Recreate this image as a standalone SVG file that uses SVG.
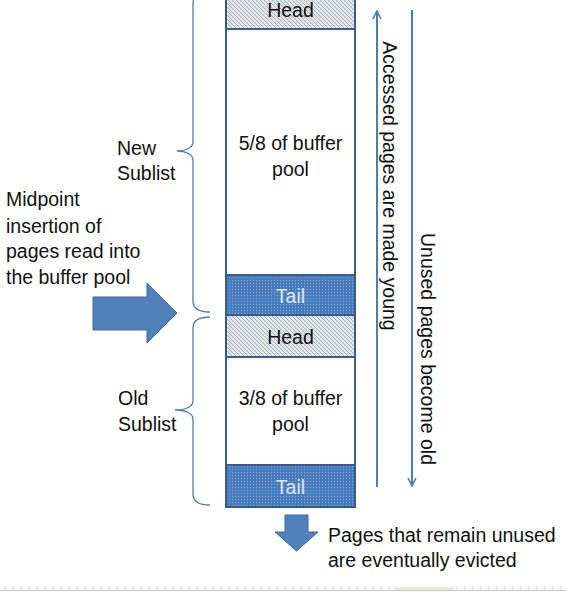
<svg xmlns="http://www.w3.org/2000/svg" width="566" height="592" viewBox="0 0 566 592">
<defs>
<pattern id="hatch" width="4" height="4" patternUnits="userSpaceOnUse">
<rect width="4" height="4" fill="#e2e5e9"/>
<path d="M-1,-1 L5,5 M-1,3 L1,5 M3,-1 L5,1" stroke="#a3abb4" stroke-width="0.9"/>
</pattern>
<pattern id="dots" width="3" height="3" patternUnits="userSpaceOnUse">
<rect width="3" height="3" fill="#4a7dbd"/>
<rect x="1" y="1" width="1" height="1" fill="#7ea3d3"/>
</pattern>
<marker id="ah" viewBox="0 0 10 10" refX="9" refY="5" markerWidth="10" markerHeight="10" markerUnits="userSpaceOnUse" orient="auto">
<path d="M1,1 L9,5 L1,9" fill="none" stroke="#4a7ebb" stroke-width="1.6"/>
</marker>
</defs>
<style>
text{font-family:"Liberation Sans",Arial,sans-serif;font-size:19.5px;fill:#111111}
.c{text-anchor:middle}
.tl{fill:#dce6f2}
.box{stroke:#385d8a;stroke-width:2}
.brace{fill:none;stroke:#4a7ebb;stroke-width:1.3}
.blk{fill:#4f81bd;stroke:#41699b;stroke-width:1}
.vline{stroke:#4a7ebb;stroke-width:2;fill:none}
</style>
<rect width="566" height="592" fill="#ffffff"/>

<g id="column">
<g id="head-top"><rect class="box" x="226" y="-3" width="129" height="32" fill="url(#hatch)"/><text class="c" x="290.5" y="17">Head</text></g>
<g id="new-body"><rect class="box" x="226" y="29" width="129" height="246" fill="#ffffff"/><text class="c" x="290.5" y="150">5/8 of buffer</text><text class="c" x="290.5" y="176">pool</text></g>
<g id="tail-new"><rect class="box" x="226" y="275" width="129" height="40" fill="url(#dots)"/><text class="c tl" x="290.5" y="303">Tail</text></g>
<g id="head-old"><rect class="box" x="226" y="315" width="129" height="42" fill="url(#hatch)"/><text class="c" x="290.5" y="344">Head</text></g>
<g id="old-body"><rect class="box" x="226" y="357" width="129" height="108" fill="#ffffff"/><text class="c" x="290.5" y="405">3/8 of buffer</text><text class="c" x="290.5" y="431">pool</text></g>
<g id="tail-old"><rect class="box" x="226" y="465" width="129" height="42" fill="url(#dots)"/><text class="c tl" x="290.5" y="494">Tail</text></g>
</g>

<g id="new-sublist">
<path class="brace" d="M210,-8 Q193,-8 193,4 L193,142 C193,148 185,151 177,151 C185,151 193,154 193,160 L193,301 Q193,312 210,312"/>
<text x="117" y="155">New</text><text x="117" y="180">Sublist</text>
</g>
<g id="old-sublist">
<path class="brace" d="M210,317 Q193,317 193,328 L193,401 C193,407 185,410 175,410 C185,410 193,413 193,419 L193,494 Q193,505 210,505"/>
<text x="118" y="405">Old</text><text x="118" y="431">Sublist</text>
</g>

<g id="midpoint">
<text x="6" y="206">Midpoint</text>
<text x="6" y="233">insertion of</text>
<text x="6" y="258">pages read into</text>
<text x="6" y="284">the buffer pool</text>
</g>

<g id="evicted">
<text x="328" y="542">Pages that remain unused</text>
<text x="328" y="567">are eventually evicted</text>
</g>

<g id="connectors">
<path class="blk" d="M93,297 L147,297 L147,283 L177,313 L147,343 L147,330 L93,330 Z"/>
<path class="blk" d="M285,515 L308,515 L308,532 L318,532 L296.5,551 L275,532 L285,532 Z"/>
<line class="vline" x1="377" y1="487" x2="377" y2="11" marker-end="url(#ah)"/>
<line class="vline" x1="412" y1="10" x2="412" y2="486" marker-end="url(#ah)"/>
</g>

<g id="young-label"><text class="c" transform="translate(383,186) rotate(90)">Accessed pages are made young</text></g>
<g id="old-label"><text class="c" transform="translate(421,349) rotate(90)">Unused pages become old</text></g>

<g id="ruler">
<rect x="0" y="586" width="566" height="6" fill="#fafafa"/>
<rect x="395" y="587" width="58" height="4" fill="#e8eedb"/>
<path d="M5,587V590 M13,587V590 M21,587V590 M29,587V590 M37,587V590 M45,587V590 M53,587V590 M61,587V590 M69,587V590 M77,587V590 M85,587V590 M93,587V590 M101,587V590 M109,587V590 M117,587V590 M125,587V590 M133,587V590 M141,587V590 M149,587V590 M157,587V590 M165,587V590 M173,587V590 M181,587V590 M189,587V590 M197,587V590 M205,587V590 M213,587V590 M221,587V590 M229,587V590 M237,587V590 M245,587V590 M253,587V590 M261,587V590 M269,587V590 M277,587V590 M285,587V590 M293,587V590 M301,587V590 M309,587V590 M317,587V590 M325,587V590 M333,587V590 M341,587V590 M349,587V590 M357,587V590 M365,587V590 M373,587V590 M381,587V590 M389,587V590 M457,587V590 M465,587V590 M473,587V590 M481,587V590 M489,587V590 M497,587V590 M505,587V590 M513,587V590 M521,587V590 M529,587V590 M537,587V590 M545,587V590 M553,587V590 M561,587V590" stroke="#d4d4d4" stroke-width="1"/>
<line x1="0" y1="590.5" x2="566" y2="590.5" stroke="#c8c8c8" stroke-width="1"/>
</g>
</svg>
